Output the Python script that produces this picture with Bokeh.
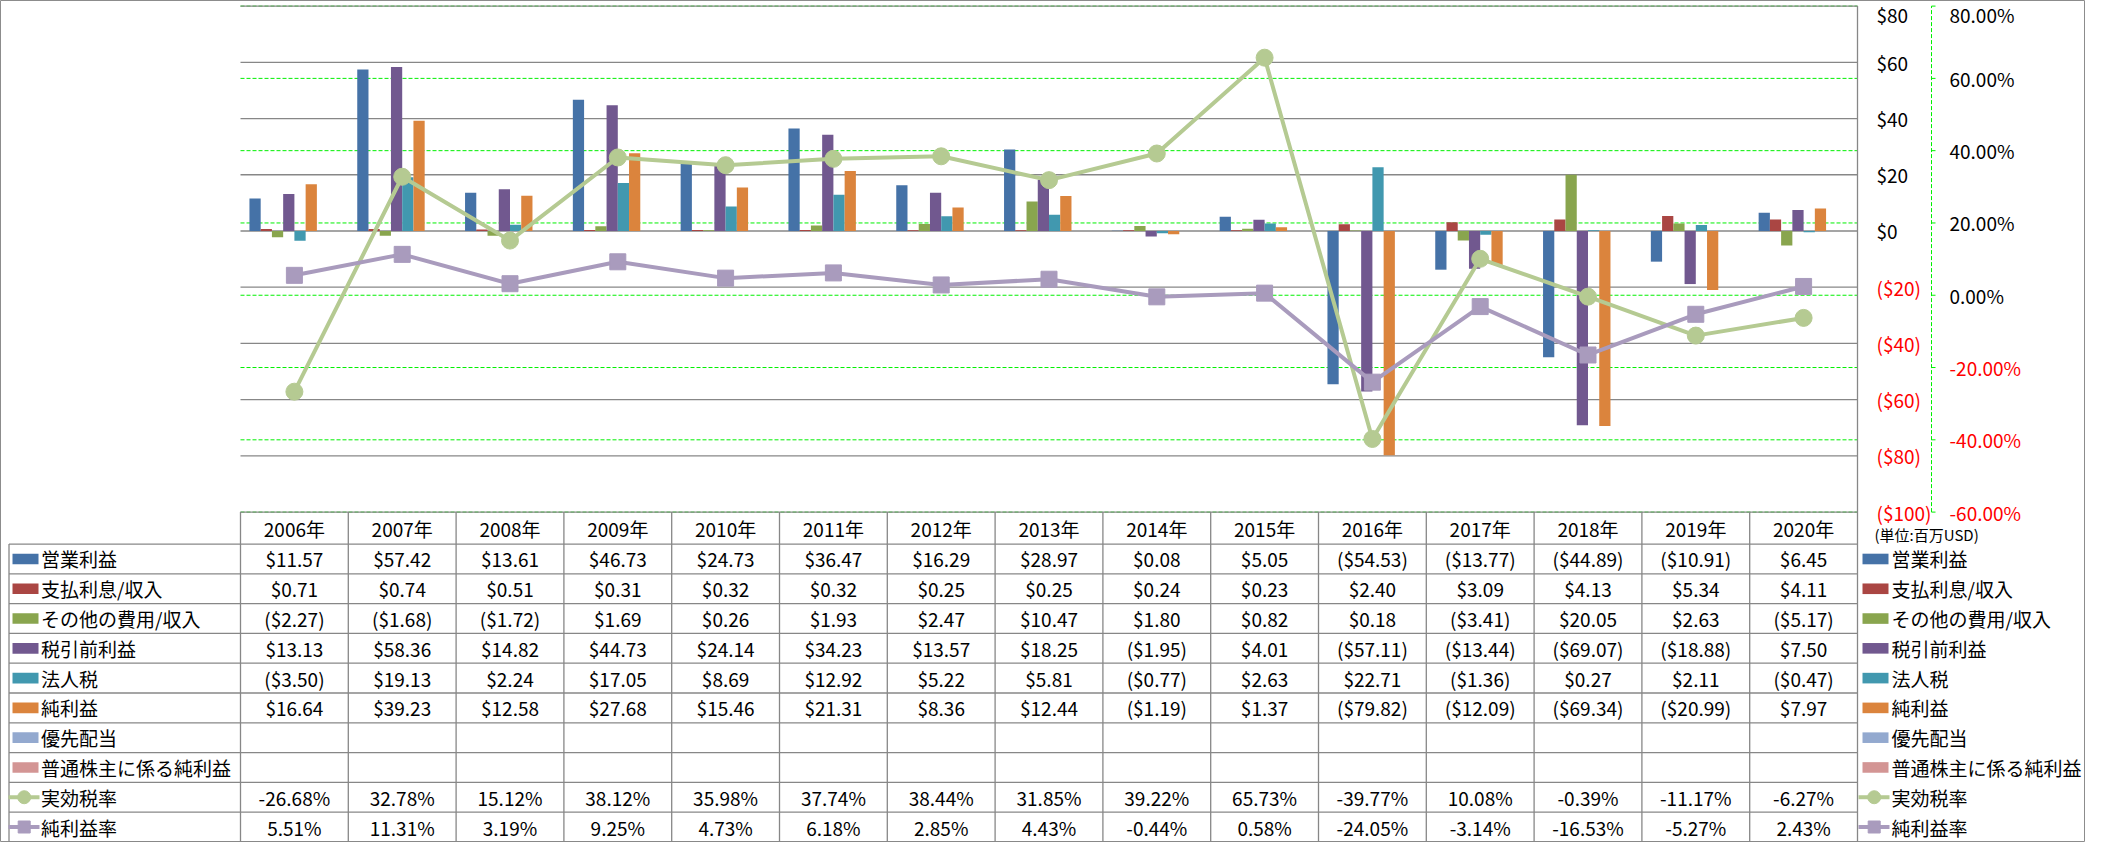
from bokeh.plotting import figure
from bokeh.models import ColumnDataSource, Range1d
from bokeh.core.properties import value
from bokeh.transform import dodge
from bokeh.embed import file_html
from bokeh.resources import INLINE

# ---------------- data ----------------
years = ["2006年", "2007年", "2008年", "2009年", "2010年", "2011年", "2012年", "2013年",
         "2014年", "2015年", "2016年", "2017年", "2018年", "2019年", "2020年"]
operating_income = [11.57, 57.42, 13.61, 46.73, 24.73, 36.47, 16.29, 28.97, 0.08, 5.05, -54.53, -13.77, -44.89, -10.91, 6.45]
interest = [0.71, 0.74, 0.51, 0.31, 0.32, 0.32, 0.25, 0.25, 0.24, 0.23, 2.40, 3.09, 4.13, 5.34, 4.11]
other_exp = [-2.27, -1.68, -1.72, 1.69, 0.26, 1.93, 2.47, 10.47, 1.80, 0.82, 0.18, -3.41, 20.05, 2.63, -5.17]
pretax_income = [13.13, 58.36, 14.82, 44.73, 24.14, 34.23, 13.57, 18.25, -1.95, 4.01, -57.11, -13.44, -69.07, -18.88, 7.50]
income_tax = [-3.50, 19.13, 2.24, 17.05, 8.69, 12.92, 5.22, 5.81, -0.77, 2.63, 22.71, -1.36, 0.27, 2.11, -0.47]
net_income = [16.64, 39.23, 12.58, 27.68, 15.46, 21.31, 8.36, 12.44, -1.19, 1.37, -79.82, -12.09, -69.34, -20.99, 7.97]
preferred_div = [None] * 15
common_net_income = [None] * 15
effective_tax_rate = [-26.68, 32.78, 15.12, 38.12, 35.98, 37.74, 38.44, 31.85, 39.22, 65.73, -39.77, 10.08, -0.39, -11.17, -6.27]
net_margin = [5.51, 11.31, 3.19, 9.25, 4.73, 6.18, 2.85, 4.43, -0.44, 0.58, -24.05, -3.14, -16.53, -5.27, 2.43]

bar_names = ["営業利益", "支払利息/収入", "その他の費用/収入", "税引前利益", "法人税", "純利益",
             "優先配当", "普通株主に係る純利益"]
bar_series = [operating_income, interest, other_exp, pretax_income, income_tax, net_income,
              preferred_div, common_net_income]
line_names = ["実効税率", "純利益率"]
line_series = [effective_tax_rate, net_margin]

usd_ticks = [-100, -80, -60, -40, -20, 0, 20, 40, 60, 80]
pct_ticks = [-60, -40, -20, 0, 20, 40, 60, 80]
unit_label = "(単位:百万USD)"

# ---------------- styles ----------------
bar_colors = ["#4572A7", "#AA4643", "#89A54E", "#71588F", "#4198AF", "#DB843D", "#93A9CF", "#D39594"]
line_colors = ["#B5CA92", "#A99BBD"]
GRID_GRAY = "#878787"
GREEN = "#00F000"
RED = "#FF0000"
FONT = value("Noto Sans CJK JP")
FS = "19px"

# ---------------- layout (page pixels) ----------------
OFF = 8
FIG_W, FIG_H = 2085, 842
PLOT_L, PLOT_R, PLOT_T, PLOT_B = 248.0, 1865.0, 13.6, 519.6
HDR_B, TBL_B = 551.6, 849.4
LEG_L = 16.5
n = len(years)
col_w = (PLOT_R - PLOT_L) / n
row_h = (TBL_B - HDR_B) / 10

def fmt_usd(v):
    return "${:.2f}".format(v) if v >= 0 else "(${:.2f})".format(-v)

def fmt_pct(v):
    return "{:.2f}%".format(v)

usd_lo, usd_hi = min(usd_ticks), max(usd_ticks)
pct_lo, pct_hi = min(pct_ticks), max(pct_ticks)
u_pp = (usd_hi - usd_lo) / (PLOT_B - PLOT_T)
p_pp = (pct_hi - pct_lo) / (PLOT_B - PLOT_T)

p = figure(width=FIG_W, height=FIG_H,
           x_range=Range1d((OFF - PLOT_L) / col_w, (OFF + FIG_W - PLOT_L) / col_w),
           y_range=Range1d(usd_lo - (OFF + FIG_H - PLOT_B) * u_pp, usd_hi + (PLOT_T - OFF) * u_pp),
           x_axis_type=None, y_axis_type=None, toolbar_location=None,
           output_backend="svg", min_border=0)
p.extra_y_ranges = {
    "pct": Range1d(pct_lo - (OFF + FIG_H - PLOT_B) * p_pp, pct_hi + (PLOT_T - OFF) * p_pp),
    "py": Range1d(OFF + FIG_H, OFF),
}
p.extra_x_ranges = {"px": Range1d(OFF, OFF + FIG_W)}
p.outline_line_color = "#8c8c8c"
p.background_fill_color = "white"
p.border_fill_color = "white"

# ---------------- gridlines ----------------
p.segment(x0=0, x1=n, y0=pct_ticks, y1=pct_ticks, y_range_name="pct",
          line_color=GREEN, line_width=1, line_dash="4 2")
p.segment(x0=0, x1=n, y0=usd_ticks, y1=usd_ticks, line_color=GRID_GRAY, line_width=1.3)
# right border of plot area
p.segment(x0=[PLOT_R], x1=[PLOT_R], y0=[PLOT_T], y1=[PLOT_B], x_range_name="px",
          y_range_name="py", line_color=GRID_GRAY, line_width=1.3)

# ---------------- bars ----------------
xc = [i + 0.5 for i in range(n)]
data = {"xc": xc}
for k, s in enumerate(bar_series):
    data["s%d" % k] = [float("nan") if v is None else v for v in s]
for k, s in enumerate(line_series):
    data["l%d" % k] = s
src = ColumnDataSource(data)
group_w = 0.834
bw = group_w / len(bar_series)
for k, s in enumerate(bar_series):
    if all(v is None for v in s):
        continue
    off = (k - (len(bar_series) - 1) / 2) * bw
    p.vbar(x=dodge("xc", off), top="s%d" % k, bottom=0, width=bw, source=src,
           fill_color=bar_colors[k], line_color=None)

# ---------------- lines ----------------
p.line(x="xc", y="l0", source=src, y_range_name="pct", line_color=line_colors[0],
       line_width=4, line_join="round")
p.scatter(x="xc", y="l0", source=src, y_range_name="pct", marker="circle", size=17,
          fill_color=line_colors[0], line_color=line_colors[0])
p.line(x="xc", y="l1", source=src, y_range_name="pct", line_color=line_colors[1],
       line_width=4, line_join="round")
p.scatter(x="xc", y="l1", source=src, y_range_name="pct", marker="square", size=16,
          fill_color=line_colors[1], line_color=line_colors[1])

# ---------------- right value axes ----------------
# the topmost label is nudged down a little so it stays inside the canvas
usd_off = [8 if t == usd_hi else 0 for t in usd_ticks]
pct_off = [8 if t == pct_hi else 0 for t in pct_ticks]
p.text(x=[1884] * len(usd_ticks), y=usd_ticks, x_range_name="px",
       text=["$%d" % t if t >= 0 else "($%d)" % -t for t in usd_ticks],
       text_color=["black" if t >= 0 else RED for t in usd_ticks], y_offset=usd_off,
       text_font=FONT, text_font_size=FS, text_align="left", text_baseline="middle")
AX2 = 1939
p.segment(x0=[AX2], x1=[AX2], y0=[pct_lo], y1=[pct_hi], x_range_name="px", y_range_name="pct",
          line_color=GREEN, line_width=1, line_dash="4 2")
p.segment(x0=AX2, x1=AX2 + 4, y0=pct_ticks, y1=pct_ticks, x_range_name="px", y_range_name="pct",
          line_color=GREEN, line_width=1)
p.text(x=[1957] * len(pct_ticks), y=pct_ticks, x_range_name="px", y_range_name="pct",
       text=["%.2f%%" % t for t in pct_ticks], y_offset=pct_off,
       text_color=["black" if t >= 0 else RED for t in pct_ticks],
       text_font=FONT, text_font_size=FS, text_align="left", text_baseline="middle")
p.text(x=[1882], y=[541.5], x_range_name="px", y_range_name="py", text=[unit_label],
       text_font=FONT, text_font_size="15px", text_align="left", text_baseline="middle",
       text_color="black")

# ---------------- data table ----------------
row_y = [HDR_B + row_h * (r + 0.5) for r in range(10)]
hlines = [HDR_B + row_h * r for r in range(10)] + [TBL_B]
p.segment(x0=LEG_L, x1=PLOT_R, y0=hlines, y1=hlines, x_range_name="px", y_range_name="py",
          line_color=GRID_GRAY, line_width=1.3)
p.segment(x0=list(range(n + 1)), x1=list(range(n + 1)), y0=PLOT_B, y1=TBL_B, y_range_name="py",
          line_color=GRID_GRAY, line_width=1.3)
p.segment(x0=[LEG_L], x1=[LEG_L], y0=[HDR_B], y1=[TBL_B], x_range_name="px", y_range_name="py",
          line_color=GRID_GRAY, line_width=1.3)

# header
p.text(x=xc, y=[(PLOT_B + HDR_B) / 2] * n, y_range_name="py", text=years,
       text_font=FONT, text_font_size=FS, text_align="center", text_baseline="middle",
       text_color="black")

# cells
cx, cy, ct = [], [], []
for r, s in enumerate(bar_series):
    for i, v in enumerate(s):
        if v is not None:
            cx.append(xc[i]); cy.append(row_y[r]); ct.append(fmt_usd(v))
for r, s in enumerate(line_series):
    for i, v in enumerate(s):
        cx.append(xc[i]); cy.append(row_y[len(bar_series) + r]); ct.append(fmt_pct(v))
p.text(x=cx, y=cy, y_range_name="py", text=ct, text_font=FONT, text_font_size=FS,
       text_align="center", text_baseline="middle", text_color="black")

# legends (left in the table, right beside it)
all_names = bar_names + line_names
for key_l, txt_x in [(20.0, 48.5), (1870.0, 1899.0)]:
    nb = len(bar_names)
    p.rect(x=[key_l + 13] * nb, y=row_y[:nb], width=26, height=10.6, x_range_name="px",
           y_range_name="py", fill_color=bar_colors, line_color=None)
    for j in range(len(line_names)):
        yy = row_y[nb + j]
        p.segment(x0=[key_l - 4], x1=[key_l + 27], y0=[yy], y1=[yy], x_range_name="px",
                  y_range_name="py", line_color=line_colors[j], line_width=4)
        p.scatter(x=[key_l + 11.7], y=[yy], x_range_name="px", y_range_name="py",
                  marker="circle" if j == 0 else "square", size=13 if j == 0 else 12,
                  fill_color=line_colors[j], line_color=line_colors[j])
    p.text(x=[txt_x] * len(all_names), y=row_y, x_range_name="px", y_range_name="py",
           text=all_names, text_font=FONT, text_font_size=FS, text_align="left",
           text_baseline="middle", text_color="black")

open("out.html", "w").write(file_html(p, INLINE))
